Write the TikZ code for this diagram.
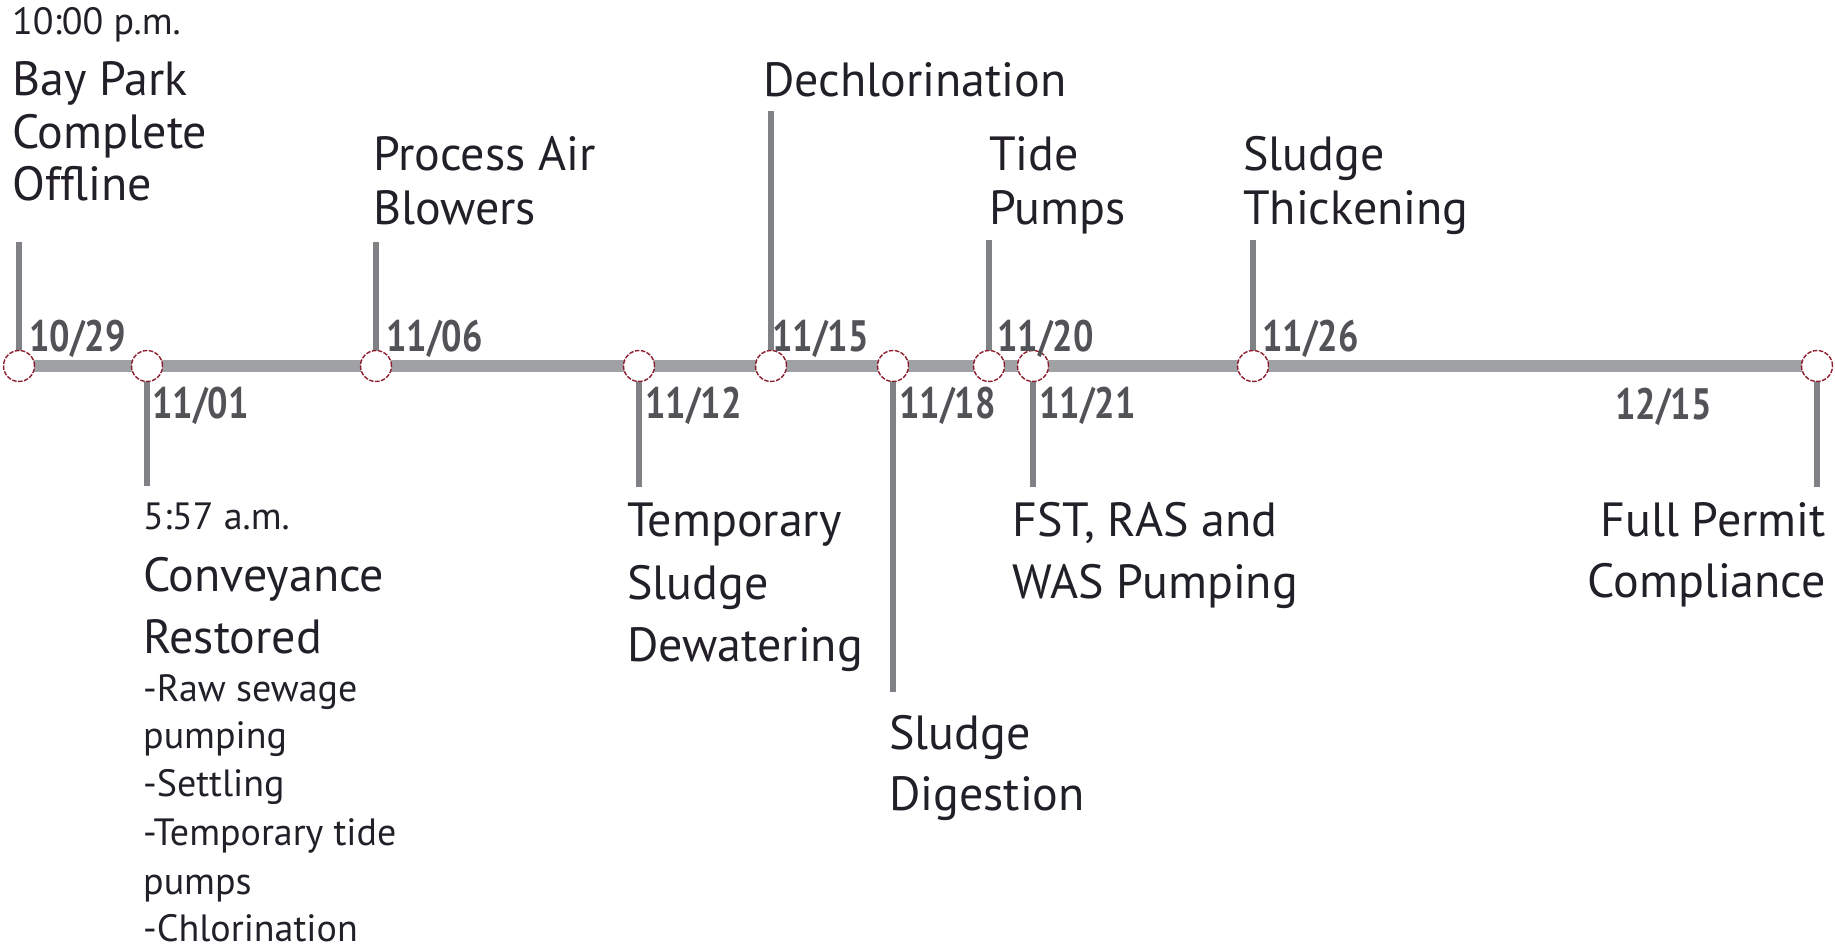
\documentclass[tikz,border=0pt]{standalone}
\usepackage{fontspec}
\setmainfont{PT Sans}
\newfontfamily\datefont[FakeStretch=0.82]{PT Sans}
\definecolor{txt}{RGB}{35,31,40}
\definecolor{dategray}{RGB}{82,83,86}
\definecolor{linegray}{RGB}{160,161,164}
\definecolor{stemgray}{RGB}{128,129,132}
\definecolor{evred}{RGB}{140,30,45}
\pgfdeclarelayer{bg}
\pgfsetlayers{bg,main}
\begin{document}
\begin{tikzpicture}[x=1pt,y=-1pt,
  axisline/.style={line width=12pt, color=linegray},
  stemline/.style={line width=5.5pt, color=stemgray},
  evdot/.style={circle, draw=evred, fill=white, line width=1.4pt, dash pattern=on 4.5pt off 1.5pt, minimum size=31pt, inner sep=0pt},
  lblbig/.style={anchor=base west, inner sep=0pt, text=txt, font=\fontsize{48}{48}\selectfont},
  lblsmall/.style={anchor=base west, inner sep=0pt, text=txt, font=\fontsize{38}{38}\selectfont},
  datelbl/.style={anchor=base west, inner sep=0pt, text=dategray, font=\datefont\bfseries\fontsize{44}{44}\selectfont}]
\path[use as bounding box] (0,0) rectangle (1835,949);

% event circles
\node[evdot] (c1) at (19,366) {};
\node[evdot] (c2) at (147,366) {};
\node[evdot] (c3) at (376,366) {};
\node[evdot] (c4) at (639,366) {};
\node[evdot] (c5) at (771,366) {};
\node[evdot] (c6) at (893,366) {};
\node[evdot] (c7) at (989,366) {};
\node[evdot] (c8) at (1033,366) {};
\node[evdot] (c9) at (1253,366) {};
\node[evdot] (c10) at (1817,366) {};

% stem ends
\coordinate (s1) at (19,242);
\coordinate (s2) at (147,486);
\coordinate (s3) at (376,242);
\coordinate (s4) at (639,487);
\coordinate (s5) at (771,111);
\coordinate (s6) at (893,692);
\coordinate (s7) at (989,240);
\coordinate (s8) at (1033,487);
\coordinate (s9) at (1253,240);
\coordinate (s10) at (1817,487);

\begin{pgfonlayer}{bg}
\draw[axisline] (c1.center) -- (c10.center);
\foreach \i in {1,...,10} {\draw[stemline] (c\i.center) -- (s\i);}
\end{pgfonlayer}

% date labels
\node[datelbl] (d1) at (29,351) {10/29};
\node[datelbl] (d2) at (152,418) {11/01};
\node[datelbl] (d3) at (386,351) {11/06};
\node[datelbl] (d4) at (645,418) {11/12};
\node[datelbl] (d5) at (772,351) {11/15};
\node[datelbl] (d6) at (899,418) {11/18};
\node[datelbl] (d7) at (997,351) {11/20};
\node[datelbl] (d8) at (1039,418) {11/21};
\node[datelbl] (d9) at (1262,351) {11/26};
\node[datelbl] (d10) at (1615,419) {12/15};

% labels above
\node[lblsmall] (t1time) at (12,35) {10:00 p.m.};
\node[lblbig] (t1a) at (12,96) {Bay Park};
\node[lblbig] (t1b) at (12,149) {Complete};
\node[lblbig] (t1c) at (12,201) {Offline};
\node[lblbig] (t3a) at (373,171) {Process Air};
\node[lblbig] (t3b) at (373,225) {Blowers};
\node[lblbig] (t5a) at (763,97) {Dechlorination};
\node[lblbig] (t7a) at (989,171) {Tide};
\node[lblbig] (t7b) at (989,225) {Pumps};
\node[lblbig] (t9a) at (1243,171) {Sludge};
\node[lblbig] (t9b) at (1243,225) {Thickening};

% labels below
\node[lblsmall] (b2time) at (143,529) {5:57 a.m.};
\node[lblbig] (b2a) at (143,591) {Conveyance};
\node[lblbig] (b2b) at (143,653) {Restored};
\node[lblsmall] (b2c) at (143,701) {-Raw sewage};
\node[lblsmall] (b2d) at (143,748) {pumping};
\node[lblsmall] (b2e) at (143,796) {-Settling};
\node[lblsmall] (b2f) at (143,845) {-Temporary tide};
\node[lblsmall] (b2g) at (143,894) {pumps};
\node[lblsmall] (b2h) at (143,941) {-Chlorination};
\node[lblbig] (b4a) at (627,536) {Temporary};
\node[lblbig] (b4b) at (627,599) {Sludge};
\node[lblbig] (b4c) at (627,661) {Dewatering};
\node[lblbig] (b6a) at (889,749) {Sludge};
\node[lblbig] (b6b) at (889,810) {Digestion};
\node[lblbig] (b8a) at (1012,536) {FST, RAS and};
\node[lblbig] (b8b) at (1012,598) {WAS Pumping};
\node[lblbig, anchor=base east] (b10a) at (1826,536) {Full Permit};
\node[lblbig, anchor=base east] (b10b) at (1826,597) {Compliance};
\end{tikzpicture}
\end{document}
